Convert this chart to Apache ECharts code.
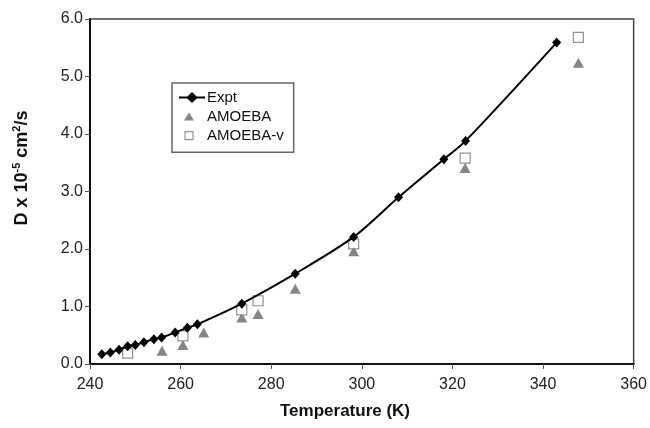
<!DOCTYPE html>
<html>
<head>
<meta charset="utf-8">
<script src="https://cdn.jsdelivr.net/npm/echarts@6/dist/echarts.min.js"></script>
<style>html,body{margin:0;padding:0;background:#fff}#c{width:650px;height:428px}</style>
</head>
<body>
<div id="c"></div>
<script>
const exptT = [242.6, 244.5, 246.4, 248.3, 250.0, 251.9, 254.1, 255.8, 258.8, 261.5, 263.7, 273.5, 285.3, 298.2, 308.1, 318.1, 322.9, 343.0];
const exptD = [0.17, 0.20, 0.25, 0.31, 0.33, 0.38, 0.43, 0.46, 0.55, 0.63, 0.69, 1.05, 1.57, 2.21, 2.90, 3.56, 3.88, 5.59];
const amoebaT = [255.9, 260.5, 265.1, 273.5, 277.1, 285.3, 298.2, 322.8, 347.8];
const amoebaD = [0.23, 0.33, 0.55, 0.81, 0.87, 1.31, 1.96, 3.41, 5.24];
const amoebaVT = [248.3, 260.5, 273.5, 277.1, 298.2, 322.8, 347.8];
const amoebaVD = [0.19, 0.49, 0.94, 1.10, 2.09, 3.58, 5.68];
const xTicks = [240, 260, 280, 300, 320, 340, 360];
const yTicks = [0, 1, 2, 3, 4, 5, 6];

const zip = (a, b) => a.map((v, i) => [v, b[i]]);
const FONT = '"Liberation Sans", Arial, sans-serif';

const chart = echarts.init(document.getElementById('c'), null, {renderer: 'canvas'});
chart.setOption({
  animation: false,
  backgroundColor: '#fff',
  grid: {left: 90, right: 14, top: 19, bottom: 64, show: true, borderColor: '#444', borderWidth: 1.5},
  xAxis: {
    type: 'value', min: xTicks[0], max: xTicks[xTicks.length - 1], interval: 20,
    axisLine: {show: true, lineStyle: {color: '#111', width: 2}},
    axisTick: {show: true, length: 5, lineStyle: {color: '#555'}},
    splitLine: {show: false},
    axisLabel: {color: '#222', fontSize: 16, fontFamily: FONT, margin: 13}
  },
  yAxis: {
    type: 'value', min: yTicks[0], max: yTicks[yTicks.length - 1], interval: 1,
    axisLine: {show: true, lineStyle: {color: '#111', width: 2}},
    axisTick: {show: true, length: 5, lineStyle: {color: '#555'}},
    splitLine: {show: false},
    axisLabel: {color: '#222', fontSize: 16, fontFamily: FONT, margin: 7, formatter: v => v.toFixed(1)}
  },
  legend: {
    orient: 'vertical', left: 172, top: 83,
    backgroundColor: '#fff', borderColor: '#666', borderWidth: 1.5,
    padding: [7, 10, 9, 6], itemGap: 4, itemWidth: 26, itemHeight: 14,
    textStyle: {color: '#111', fontSize: 15, fontFamily: FONT, padding: [0, 0, 0, -3]},
    data: [
      {name: 'Expt'},
      {name: 'AMOEBA', icon: 'path://M0,0M26,14M10,3L15,11L5,11Z', itemStyle: {color: '#666'}},
      {name: 'AMOEBA-v', icon: 'path://M0,0M26,14M6,3L14,3L14,11L6,11Z', itemStyle: {color: '#fff', borderColor: '#777', borderWidth: 1.2}}
    ]
  },
  graphic: [
    {
      type: 'text', x: 22, y: 168, rotation: Math.PI / 2,
      style: {
        text: '{m|D x 10}{s|-5}{m| cm}{s|2}{m|/s}',
        align: 'center', verticalAlign: 'middle',
        rich: {
          m: {fontSize: 18, fontWeight: 'bold', fontFamily: FONT, fill: '#111', lineHeight: 21},
          s: {fontSize: 11, fontWeight: 'bold', fontFamily: FONT, fill: '#111', verticalAlign: 'top', lineHeight: 12}
        }
      }
    },
    {
      type: 'text', x: 345, y: 411,
      style: {text: 'Temperature (K)', align: 'center', verticalAlign: 'middle', fontSize: 17, fontWeight: 'bold', fontFamily: FONT, fill: '#111'}
    }
  ],
  series: [
    {
      name: 'Expt', type: 'line', data: zip(exptT, exptD), smooth: 0.3,
      symbol: 'diamond', symbolSize: [9, 10], showAllSymbol: true,
      lineStyle: {color: '#000', width: 2},
      itemStyle: {color: '#000'}, z: 3
    },
    {
      name: 'AMOEBA', type: 'scatter', data: zip(amoebaT, amoebaD),
      symbol: 'triangle', symbolSize: [11, 10],
      itemStyle: {color: '#666'}, z: 2
    },
    {
      name: 'AMOEBA-v', type: 'scatter', data: zip(amoebaVT, amoebaVD),
      symbol: 'rect', symbolSize: 10,
      itemStyle: {color: '#fff', borderColor: '#777', borderWidth: 1.2}, z: 2
    }
  ]
});
</script>
</body>
</html>
